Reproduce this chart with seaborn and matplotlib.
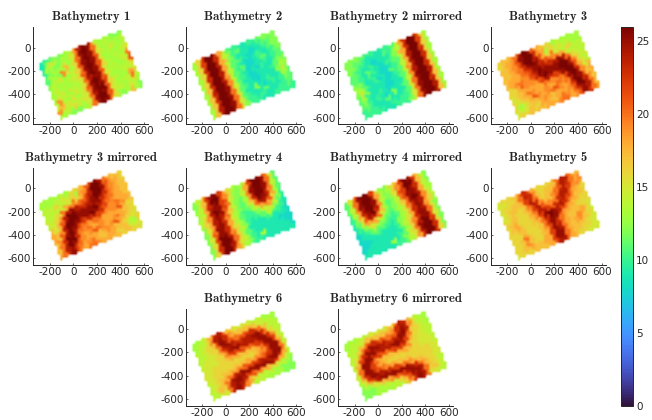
import numpy as np
import matplotlib
matplotlib.use("Agg")
import matplotlib.pyplot as plt
import seaborn as sns

# values, rows go across the basin, columns along it
bathy_1 = [
    [9,10,11,12,12,12,13,14,18,24,26,25,19,14,13,13,13,12,12,12],
    [9,12,15,13,12,13,13,15,20,25,26,25,20,15,13,14,13,13,13,14],
    [10,13,13,12,13,15,13,15,20,25,26,25,21,15,14,13,15,13,13,14],
    [10,12,13,13,13,17,14,16,21,25,26,25,21,15,13,14,13,13,14,15],
    [11,13,13,12,19,15,13,16,21,25,26,25,21,15,13,13,14,13,14,18],
    [11,13,14,15,13,13,14,16,20,25,26,25,21,16,14,13,13,14,14,20],
    [12,14,13,13,13,14,15,16,21,25,26,25,21,15,13,14,13,13,15,21],
    [13,14,13,14,13,13,14,15,20,24,25,25,20,15,14,13,14,13,14,16],
    [13,14,15,13,15,14,13,15,20,25,26,25,21,15,13,13,13,14,14,15],
    [13,15,14,14,13,15,14,16,21,25,26,25,22,16,14,14,13,13,18,15],
    [14,19,14,13,15,13,14,15,20,25,26,26,21,16,14,13,14,14,20,14],
    [15,17,14,15,14,14,15,15,20,24,26,25,21,15,14,14,13,14,15,13],
    [19,15,14,13,16,14,13,15,20,25,26,26,21,16,13,14,13,15,14,12],
    [14,13,13,12,12,12,13,15,20,25,26,25,20,15,13,12,13,17,13,12],
]
bathy_2 = [
    [13,16,22,26,26,23,18,14,11,10,10,9,9,10,10,11,12,12,12,12],
    [13,16,22,26,26,23,18,14,12,10,11,9,9,9,9,10,11,11,12,12],
    [13,16,22,26,26,24,18,17,12,10,9,9,9,8,9,9,10,11,12,12],
    [13,16,23,26,26,24,18,14,11,11,10,9,8,9,10,9,9,10,11,12],
    [13,16,23,26,26,24,18,14,11,10,9,8,8,9,10,11,9,10,11,11],
    [13,16,23,26,26,24,18,14,11,10,11,8,8,9,9,10,9,10,11,11],
    [13,16,23,26,26,24,19,14,11,10,9,8,9,8,10,9,9,11,12,12],
    [13,17,23,26,26,24,19,14,11,10,9,8,8,9,9,9,10,11,13,13],
    [13,17,24,26,26,25,19,14,11,9,9,8,8,9,9,9,9,12,15,12],
    [13,17,23,26,26,25,20,15,11,10,9,9,8,9,10,9,9,10,13,11],
    [13,17,23,26,26,25,20,15,11,9,9,12,9,8,9,10,9,10,12,11],
    [13,17,24,26,26,25,20,15,11,10,9,9,9,11,9,9,9,10,11,11],
    [13,17,24,26,26,25,20,15,11,10,10,9,10,9,9,9,10,10,11,10],
    [13,17,24,26,26,25,20,15,12,10,10,10,9,9,9,10,10,10,10,10],
]
bathy_3 = [
    [16,17,17,18,20,24,26,25,21,18,17,16,15,13,14,13,13,13,13,13],
    [16,17,18,19,21,25,26,26,23,19,18,13,16,14,15,14,14,13,13,13],
    [17,17,18,19,21,24,26,26,24,21,18,16,20,15,14,14,16,14,14,14],
    [17,17,18,19,20,23,25,26,25,23,21,20,19,20,18,15,14,14,14,14],
    [17,17,18,18,20,21,23,25,25,24,23,23,24,25,24,20,16,15,14,14],
    [17,18,18,18,19,20,22,24,26,25,25,25,25,26,26,24,19,16,14,15],
    [17,18,19,20,19,19,21,23,25,26,25,25,25,26,26,25,21,17,15,14],
    [16,16,18,21,19,19,19,21,22,24,23,22,23,25,26,26,23,18,15,17],
    [16,16,17,18,18,18,18,18,20,20,19,19,20,22,25,26,24,19,17,18],
    [15,16,17,18,20,19,18,18,19,18,18,20,19,20,24,26,25,21,17,18],
    [16,15,16,17,18,21,19,18,19,20,21,19,18,19,23,26,26,23,19,17],
    [16,13,14,16,17,17,18,19,18,17,18,18,18,19,21,25,26,24,20,17],
    [15,14,15,17,17,16,18,18,17,17,18,20,19,18,20,23,25,24,20,17],
    [15,16,16,17,16,17,17,18,18,18,19,20,20,18,19,21,25,23,20,18],
]
bathy_4 = [
    [12,14,17,22,25,26,22,18,16,14,12,13,16,22,26,26,25,20,15,11],
    [12,14,17,23,26,26,22,19,16,13,12,14,18,24,26,26,25,20,14,11],
    [12,14,18,23,25,26,22,21,15,12,12,14,19,25,26,26,25,20,14,11],
    [13,14,18,24,25,25,22,20,14,12,11,13,19,24,26,26,24,19,14,11],
    [13,15,19,24,26,25,21,17,14,12,11,13,17,23,26,25,23,18,13,10],
    [14,16,19,24,25,24,20,16,13,12,11,12,15,20,24,24,21,16,12,10],
    [13,16,18,24,25,23,19,15,13,11,10,11,13,15,18,19,18,14,11,9],
    [12,15,19,24,25,23,18,15,13,11,10,10,11,12,14,15,14,12,10,9],
    [12,15,20,25,25,23,18,15,13,12,10,9,10,11,11,13,11,10,9,8],
    [12,15,21,25,25,23,19,16,14,12,10,9,9,9,10,11,9,9,9,8],
    [12,15,22,26,26,24,20,16,13,11,9,9,9,9,9,9,9,8,8,8],
    [12,16,23,26,26,25,20,16,14,11,10,9,9,9,9,9,9,9,8,8],
    [12,16,23,26,26,24,19,15,14,12,10,9,13,9,9,9,9,9,9,8],
    [12,16,23,26,26,23,18,15,13,11,10,10,9,9,9,9,9,9,9,9],
]
bathy_5 = [
    [15,16,16,16,17,20,23,21,18,16,16,16,16,17,20,24,24,20,18,17],
    [15,15,16,16,17,20,24,23,19,17,16,17,17,18,21,24,23,20,18,19],
    [15,16,16,17,17,18,22,24,20,17,16,17,18,20,23,24,22,19,19,18],
    [15,16,17,17,16,17,20,24,23,19,17,17,19,21,24,24,21,18,17,16],
    [15,16,17,16,16,17,19,22,24,21,19,19,20,23,24,22,19,17,17,16],
    [16,16,17,16,16,16,18,20,24,24,22,21,23,24,23,20,18,17,16,16],
    [16,17,18,16,16,16,17,19,22,25,26,25,24,22,20,18,17,16,16,16],
    [16,17,18,17,16,16,17,18,20,23,26,25,22,19,18,17,17,16,16,15],
    [16,16,17,17,16,16,16,17,20,23,25,23,20,18,17,17,17,18,16,15],
    [16,16,16,18,16,16,16,17,19,22,25,23,20,18,17,17,19,17,16,15],
    [16,16,17,20,17,16,16,17,18,22,25,24,20,18,17,18,19,17,16,15],
    [16,16,17,19,17,16,16,18,18,22,25,25,20,18,17,17,17,16,15,15],
    [16,16,17,17,18,17,17,18,18,22,25,25,20,18,17,17,16,16,15,15],
    [15,16,16,16,17,17,17,17,18,21,24,24,20,18,17,16,16,15,15,15],
]
bathy_6 = [
    [13,13,14,15,18,23,24,20,17,16,15,15,15,15,14,14,14,13,13,13],
    [13,14,14,16,19,24,25,23,19,18,17,17,17,18,17,15,14,14,14,13],
    [13,14,15,16,17,22,25,24,21,20,20,21,22,23,22,20,17,14,14,14],
    [14,14,15,16,16,20,24,25,24,23,23,24,24,25,25,23,20,16,14,14],
    [14,14,15,15,16,18,22,24,25,25,24,24,24,24,25,25,23,19,15,14],
    [14,15,15,15,16,16,19,22,22,22,21,20,21,22,23,25,25,22,16,14],
    [14,15,15,15,16,16,17,18,18,17,17,17,17,18,20,23,25,25,18,14],
    [15,15,16,16,16,16,16,16,16,16,16,16,17,18,19,22,25,25,20,15],
    [15,15,16,16,16,16,16,17,17,17,18,18,19,20,21,23,25,25,20,15],
    [15,15,16,16,17,17,18,19,20,21,22,22,23,24,24,25,25,23,18,14],
    [14,15,16,17,18,20,23,24,25,25,25,25,25,25,25,24,22,18,15,13],
    [14,15,16,17,20,24,25,25,24,22,21,20,19,18,17,16,15,14,13,12],
    [14,15,17,16,20,24,25,24,21,18,16,15,14,14,14,13,13,12,12,12],
    [14,14,15,15,20,24,25,23,19,16,14,14,14,13,13,13,13,12,12,12],
]

x_ticks = [-200, 0, 200, 400, 600]
y_ticks = [0, -200, -400, -600]
cbar_ticks = [0, 5, 10, 15, 20, 25]

# survey rectangle in map coordinates
corner = np.array([-303.0, -127.0])
long_dir = np.array([0.928, 0.371])
short_dir = np.array([0.371, -0.928])
long_len, short_len = 760.0, 525.0

# square map cells
cell = 25.0
x_min, x_max = -340.0, 635.0
y_min, y_max = -655.0, 175.0


def to_map_cells(values):
    """Put the rotated grid on square map cells, blank outside the survey"""
    values = np.asarray(values, dtype=float)
    xc = np.arange(x_min + cell / 2, x_max, cell)
    yc = np.arange(y_max - cell / 2, y_min, -cell)
    xx, yy = np.meshgrid(xc, yc)
    u = ((xx - corner[0]) * long_dir[0] + (yy - corner[1]) * long_dir[1]) / long_len
    v = ((xx - corner[0]) * short_dir[0] + (yy - corner[1]) * short_dir[1]) / short_len
    inside = (u >= 0) & (u < 1) & (v >= 0) & (v < 1)
    out = np.full(xx.shape, np.nan)
    rows = (v[inside] * values.shape[0]).astype(int)
    cols = (u[inside] * values.shape[1]).astype(int)
    out[inside] = values[rows, cols]
    extent = [xc[0] - cell / 2, xc[-1] + cell / 2, yc[-1] - cell / 2, yc[0] + cell / 2]
    return out, extent


panels = [
    ("Bathymetry 1", bathy_1, 0, 0),
    ("Bathymetry 2", bathy_2, 0, 1),
    ("Bathymetry 2 mirrored", np.fliplr(bathy_2), 0, 2),
    ("Bathymetry 3", bathy_3, 0, 3),
    ("Bathymetry 3 mirrored", np.fliplr(bathy_3), 1, 0),
    ("Bathymetry 4", bathy_4, 1, 1),
    ("Bathymetry 4 mirrored", np.fliplr(bathy_4), 1, 2),
    ("Bathymetry 5", bathy_5, 1, 3),
    ("Bathymetry 6", bathy_6, 2, 1),
    ("Bathymetry 6 mirrored", np.fliplr(bathy_6), 2, 2),
]

sns.set_theme(style="ticks")
plt.rcParams["font.family"] = ["DejaVu Sans"]
plt.rcParams["axes.unicode_minus"] = False

W, H = 652.0, 420.0
fig = plt.figure(figsize=(W / 100, H / 100), dpi=100)
dark = "#262626"
# blank cells fade to white, not black
turbo = sns.color_palette("turbo", as_cmap=True).with_extremes(bad=(1, 1, 1, 0))

lefts = [33.3, 185.5, 338.0, 490.7]
tops = [27.3, 167.7, 308.5]
ax_w, ax_h = 115.0, 97.0

for name, values, row, col in panels:
    ax = fig.add_axes([lefts[col] / W, 1 - (tops[row] + ax_h) / H, ax_w / W, ax_h / H])
    grid, extent = to_map_cells(values)
    im = ax.imshow(grid, extent=extent, cmap=turbo, vmin=0, vmax=26, aspect="auto",
                   interpolation="bilinear", interpolation_stage="rgba")
    ax.set_xlim(x_min, x_max)
    ax.set_ylim(y_min, y_max)
    ax.set_xticks(x_ticks)
    ax.set_xticklabels([str(x) for x in x_ticks])
    ax.set_yticks(y_ticks)
    ax.set_yticklabels([str(y) for y in y_ticks])
    ax.tick_params(direction="in", length=1.5, width=0.5, color=dark, labelsize=7.5,
                   labelcolor=dark, pad=1.5)
    sns.despine(ax=ax)
    for side in ["left", "bottom"]:
        ax.spines[side].set_color(dark)
        ax.spines[side].set_linewidth(0.7)
    ax.set_title(name, family="cmb10", fontsize=9.2, color=dark, pad=5)

cax = fig.add_axes([620.7 / W, 1 - 405.7 / H, 12.6 / W, 379.0 / H])
cbar = fig.colorbar(im, cax=cax, ticks=cbar_ticks)
cbar.ax.set_yticklabels([str(t) for t in cbar_ticks])
cbar.ax.tick_params(direction="in", length=3, width=0.5, color=dark, labelsize=7.5,
                    labelcolor=dark, pad=2)
cbar.outline.set_edgecolor(dark)
cbar.outline.set_linewidth(0.7)

fig.savefig("out.png", dpi=100)
